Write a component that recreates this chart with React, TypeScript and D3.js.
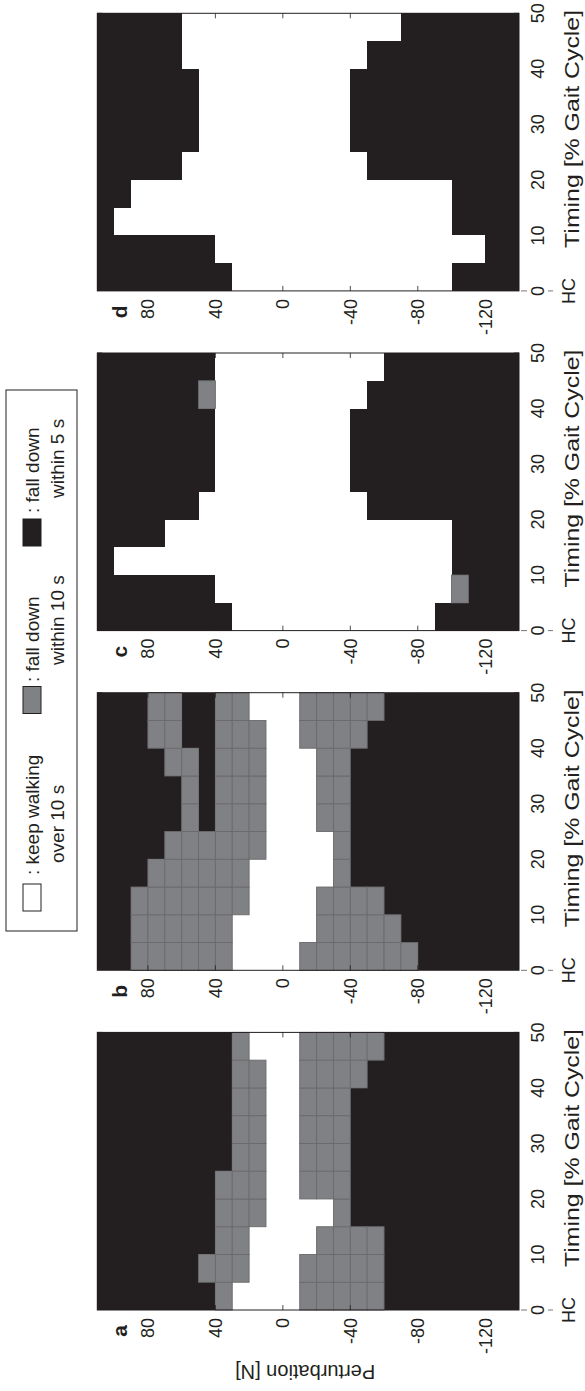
import React from 'react';
import * as d3 from 'd3';

// Outcome of each perturbation trial: W = keep walking over 10 s,
// G = fall down within 10 s, B = fall down within 5 s.
// Rows go from timing 0 % upward; characters go from +110 N down to -140 N.
const timingBins = [0, 5, 10, 15, 20, 25, 30, 35, 40, 45];
const forceBins = [100, 90, 80, 70, 60, 50, 40, 30, 20, 10, 0, -10, -20, -30, -40, -50, -60, -70, -80, -90, -100, -110, -120, -130, -140];

const gridA = [
  'BBBBBBB G WWWW GGGGG BBBBBBBB',
  'BBBBBB GGG WWW GGGGG BBBBBBBB',
  'BBBBBBB GG WWWW GGGG BBBBBBBB',
  'BBBBBBB GGG WWWW G BBBBBBBBBB',
  'BBBBBBB GGG WW GGG BBBBBBBBBB',
  'BBBBBBBB GG WW GGG BBBBBBBBBB',
  'BBBBBBBB GG WW GGG BBBBBBBBBB',
  'BBBBBBBB GG WW GGG BBBBBBBBBB',
  'BBBBBBBB GG WW GGGG BBBBBBBBB',
  'BBBBBBBB G WWW GGGGG BBBBBBBB',
];
const gridB = [
  'BB GGGGGG WWWW GGGGGGG BBBBBB',
  'BB GGGGGG WWWWW GGGGG BBBBBBB',
  'BB GGGGGGG WWWW GGGG BBBBBBBB',
  'BBB GGGGGG WWWWW G BBBBBBBBBB',
  'BBBB GGGGGG WWWW G BBBBBBBBBB',
  'BBBBB G B GGG WWW GG BBBBBBBBBB',
  'BBBBB G B GGG WWW GG BBBBBBBBBB',
  'BBBB GG B GGG WWW GG BBBBBBBBBB',
  'BBB GG BB GGG WW GGGG BBBBBBBBB',
  'BBB GG BB GG WWW GGGGG BBBBBBBB',
];
const gridC = [
  'BBBBBBBB WWWWWWWWWWWW BBBBB',
  'BBBBBBB WWWWWWWWWWWWWW G BBB',
  'B WWWWWWWWWWWWWWWWWWWW BBBB',
  'BBBB WWWWWWWWWWWWWWWWW BBBB',
  'BBBBBB WWWWWWWWWW BBBBBBBBB',
  'BBBBBBB WWWWWWWW BBBBBBBBBB',
  'BBBBBBB WWWWWWWW BBBBBBBBBB',
  'BBBBBBB WWWWWWWW BBBBBBBBBB',
  'BBBBBB G WWWWWWWWW BBBBBBBBB',
  'BBBBBBB WWWWWWWWWW BBBBBBBB',
];
const gridD = [
  'BBBBBBBB WWWWWWWWWWWWW BBBB',
  'BBBBBBB WWWWWWWWWWWWWWWW BB',
  'B WWWWWWWWWWWWWWWWWWWW BBBB',
  'BB WWWWWWWWWWWWWWWWWWW BBBB',
  'BBBBB WWWWWWWWWWW BBBBBBBBB',
  'BBBBBB WWWWWWWWW BBBBBBBBBB',
  'BBBBBB WWWWWWWWW BBBBBBBBBB',
  'BBBBBB WWWWWWWWW BBBBBBBBBB',
  'BBBBB WWWWWWWWWWW BBBBBBBBB',
  'BBBBB WWWWWWWWWWWWW BBBBBBB',
];

const panelLetters = ['d', 'c', 'b', 'a'];
const panelGrids = [gridD, gridC, gridB, gridA];

const forceTicks = [80, 40, 0, -40, -80, -120];
const timingTicks = [10, 20, 30, 40, 50];

const legendItems = [
  { code: 'W', lines: [': keep walking', 'over 10 s'] },
  { code: 'G', lines: [': fall down', 'within 10 s'] },
  { code: 'B', lines: [': fall down', 'within 5 s'] },
];

const INK = '#231f20';
const fills: Record<string, string> = { W: '#ffffff', G: '#808184', B: INK };
const FONT = '"Liberation Sans", Arial, Helvetica, sans-serif';

const LEFT = 97.3;
const RIGHT = 519;
const TOP0 = 13.3;
const STEP = 339.7;
const PH = 277.6;

const x = d3.scaleLinear().domain([110, -140]).range([LEFT, RIGHT]);

function Panel({ k, grid, letter }: { k: number; grid: string[]; letter: string }) {
  const top = TOP0 + STEP * k;
  const bottom = top + PH;
  const y = d3.scaleLinear().domain([0, 50]).range([bottom, top]);
  const cells: { t: number; f: number; c: string }[] = [];
  grid.forEach((row, ri) => {
    row.replace(/ /g, '').split('').forEach((c, ci) => {
      cells.push({ t: timingBins[ri], f: forceBins[ci], c });
    });
  });
  const order = ['W', 'B', 'G'];
  const sorted = order.flatMap(o => cells.filter(d => d.c === o));
  return (
    <g>
      {sorted.map((d, i) => (
        <rect key={i}
          x={x(d.f + 10)} y={y(d.t + 5)}
          width={x(d.f) - x(d.f + 10)} height={y(d.t) - y(d.t + 5)}
          fill={fills[d.c]}
          stroke={d.c === 'G' ? '#6a6a6d' : 'none'} strokeWidth={0.9}
          shapeRendering={d.c === 'G' ? undefined : 'crispEdges'} />
      ))}
      {/* frame */}
      <rect x={LEFT} y={top} width={RIGHT - LEFT} height={PH} fill="none" stroke={INK} strokeWidth={1} />
      {/* force ticks (inward, top and bottom) */}
      {forceTicks.map(v => (
        <g key={v}>
          <line x1={x(v)} x2={x(v)} y1={bottom} y2={bottom - 5} stroke={INK} strokeWidth={0.8} />
          <line x1={x(v)} x2={x(v)} y1={top} y2={top + 5} stroke={INK} strokeWidth={0.8} />
          <text transform={`translate(${x(v)},${bottom + 8}) rotate(-90)`} textAnchor="end" dy="0.35em"
            fontSize={18} fontFamily={FONT} fill={INK}>{v}</text>
        </g>
      ))}
      {/* timing ticks */}
      {timingTicks.map(t => (
        <g key={t}>
          <line x1={RIGHT} x2={RIGHT - 5} y1={y(t)} y2={y(t)} stroke={INK} strokeWidth={0.8} />
          <line x1={LEFT} x2={LEFT + 5} y1={y(t)} y2={y(t)} stroke={INK} strokeWidth={0.8} />
          <text transform={`translate(${543.5},${y(t)}) rotate(-90)`} textAnchor="middle"
            fontSize={18} fontFamily={FONT} fill={INK}>{t}</text>
        </g>
      ))}
      <text transform={`translate(${543.5},${y(0)}) rotate(-90)`} textAnchor="middle"
        fontSize={18} fontFamily={FONT} fill={INK}>0</text>
      <line x1={521} x2={527} y1={y(0)} y2={y(0)} stroke="#777" strokeWidth={1} />
      <line x1={548} x2={553} y1={y(0)} y2={y(0)} stroke="#777" strokeWidth={1} />
      <text transform={`translate(${575},${y(0)}) rotate(-90)`} textAnchor="middle"
        fontSize={18} fontFamily={FONT} fill={INK}>HC</text>
      <text transform={`translate(${579},${bottom - 43}) rotate(-90)`} textAnchor="start"
        fontSize={20} textLength={238} lengthAdjust="spacingAndGlyphs" fontFamily={FONT} fill={INK}>Timing [% Gait Cycle]</text>
      <text transform={`translate(${120},${bottom + 21}) rotate(-90)`} textAnchor="middle" dy="0.35em"
        fontSize={21} fontWeight="bold" fontFamily={FONT} fill={INK}>{letter}</text>
    </g>
  );
}

function Legend() {
  const patchY = [884, 686.5, 519];
  const line1Y = [875, 682, 513];
  const line2Y = [863, 665, 498];
  return (
    <g>
      <rect x={6} y={390} width={71} height={541} fill="#fff" stroke={INK} strokeWidth={1} />
      {legendItems.map((it, i) => (
        <g key={i}>
          <rect x={23} y={patchY[i]} width={18} height={27} fill={fills[it.code]} stroke={INK} strokeWidth={1} />
          <text transform={`translate(39,${line1Y[i]}) rotate(-90)`} fontSize={19} fontFamily={FONT} fill={INK}>{it.lines[0]}</text>
          <text transform={`translate(64,${line2Y[i]}) rotate(-90)`} fontSize={19} fontFamily={FONT} fill={INK}>{it.lines[1]}</text>
        </g>
      ))}
    </g>
  );
}

export default function App() {
  const aBottom = TOP0 + STEP * 3 + PH;
  return (
    <svg width={585} height={1391} style={{ position: 'absolute', left: 0, top: 0, background: '#fff' }}>
      <rect width={585} height={1391} fill="#fff" />
      {panelGrids.map((g, k) => (
        <Panel key={k} k={k} grid={g} letter={panelLetters[k]} />
      ))}
      <Legend />
      <text transform={`translate(${(LEFT + RIGHT) / 2 - 3},${aBottom + 55}) rotate(180)`} textAnchor="middle"
        fontSize={20} fontFamily={FONT} fill={INK}>Perturbation [N]</text>
    </svg>
  );
}
